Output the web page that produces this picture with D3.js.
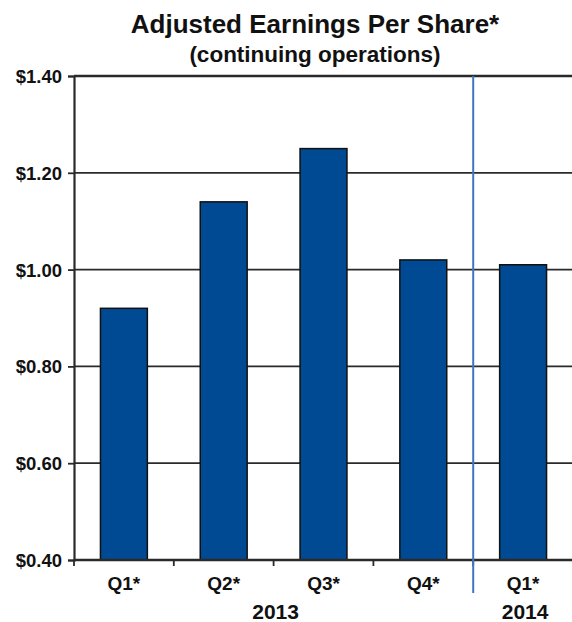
<!DOCTYPE html>
<html>
<head>
<meta charset="utf-8">
<script src="https://cdn.jsdelivr.net/npm/d3@7"></script>
<style>
  html, body { margin: 0; padding: 0; background: #fff; }
  text { font-family: "Liberation Sans", Arial, Helvetica, sans-serif; font-weight: bold; fill: #111; }
</style>
</head>
<body>
<svg id="chart" width="572" height="622"></svg>
<script>
const quarters = ["Q1*", "Q2*", "Q3*", "Q4*", "Q1*"];
const years = ["2013", "2013", "2013", "2013", "2014"];
const eps = [0.92, 1.14, 1.25, 1.02, 1.01];
const yTickValues = [0.40, 0.60, 0.80, 1.00, 1.20, 1.40];
const title = "Adjusted Earnings Per Share*";
const subtitle = "(continuing operations)";

(function () {
const svg = d3.select("#chart");
const pLeft = 74, pRight = 573, pTop = 76, pBottom = 560;
const keys = quarters.map((q, i) => years[i] + " " + q);

const x = d3.scaleBand().domain(keys).range([pLeft, pRight]).paddingInner(0.53).paddingOuter(0.265);
const y = d3.scaleLinear().domain([0.40, 1.40]).range([pBottom, pTop]);
const gap = (x.step() - x.bandwidth()) / 2;
const boundary = i => (i < keys.length ? x(keys[i]) - gap : x(keys[keys.length - 1]) + x.bandwidth() + gap);

// titles
svg.append("text").attr("x", 315).attr("y", 33).attr("text-anchor", "middle")
  .style("font-size", "26px").text(title);
svg.append("text").attr("x", 315).attr("y", 62).attr("text-anchor", "middle")
  .style("font-size", "22.5px").text(subtitle);

// gridlines
svg.append("g").selectAll("line").data(yTickValues).join("line")
  .attr("x1", pLeft).attr("x2", 572)
  .attr("y1", d => y(d)).attr("y2", d => y(d))
  .attr("stroke", "#2a2a2a").attr("stroke-width", d => d === 1.40 ? 2.5 : 1.8);

// y axis
const yAxis = d3.axisLeft(y).tickValues(yTickValues).tickSize(6).tickPadding(6)
  .tickFormat(d => "$" + d3.format(".2f")(d));
const gy = svg.append("g").attr("transform", `translate(${pLeft},0)`).call(yAxis);
gy.select(".domain").attr("stroke", "#2a2a2a").attr("stroke-width", 2.2);
gy.selectAll(".tick line").attr("stroke", "#2a2a2a").attr("stroke-width", 1.8);
gy.selectAll(".tick text").style("font-size", "18.5px").style("font-family", "Liberation Sans, Arial, sans-serif")
  .style("font-weight", "bold").attr("fill", "#111").attr("dy", "0.35em");

// bars
svg.append("g").selectAll("rect").data(eps).join("rect")
  .attr("x", (d, i) => x(keys[i]))
  .attr("y", d => y(d))
  .attr("width", x.bandwidth())
  .attr("height", d => y(0.40) - y(d))
  .attr("fill", "#004a93")
  .attr("stroke", "#111").attr("stroke-width", 1.5);

// bottom axis line
svg.append("line").attr("x1", pLeft).attr("x2", 572).attr("y1", pBottom).attr("y2", pBottom)
  .attr("stroke", "#2a2a2a").attr("stroke-width", 2.4);

// x ticks at slot boundaries
svg.append("g").selectAll("line").data(d3.range(0, keys.length)).join("line")
  .attr("x1", i => boundary(i)).attr("x2", i => boundary(i))
  .attr("y1", pBottom).attr("y2", pBottom + 6)
  .attr("stroke", "#2a2a2a").attr("stroke-width", 1.8);

// divider between years
svg.append("line").attr("x1", boundary(4)).attr("x2", boundary(4))
  .attr("y1", pTop).attr("y2", 593)
  .attr("stroke", "#3b78c2").attr("stroke-width", 2);

// quarter labels
svg.append("g").selectAll("text").data(quarters).join("text")
  .attr("x", (d, i) => x(keys[i]) + x.bandwidth() / 2)
  .attr("y", 590).attr("text-anchor", "middle")
  .style("font-size", "19px").text(d => d);

// year labels
const yearGroups = d3.groups(keys.map((k, i) => ({ k, i, yr: years[i] })), d => d.yr);
svg.append("g").selectAll("text").data(yearGroups).join("text")
  .attr("x", g => (boundary(g[1][0].i) + boundary(g[1][g[1].length - 1].i + 1)) / 2 + 2)
  .attr("y", 619).attr("text-anchor", "middle")
  .style("font-size", "21px").text(g => g[0]);
})();
</script>
</body>
</html>
